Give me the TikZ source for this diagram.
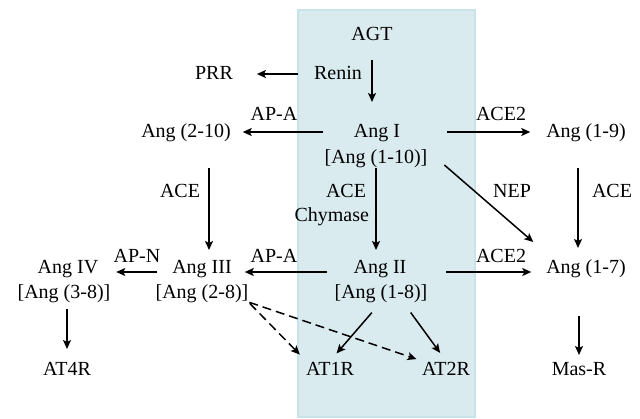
\documentclass[tikz,border=0pt]{standalone}
\usepackage{fontspec}
\setmainfont{Liberation Serif}
\usetikzlibrary{arrows.meta}

\definecolor{boxfill}{HTML}{DAEBEF}
\definecolor{boxline}{HTML}{C8E3E9}

\tikzset{
  lbl/.style={anchor=base, inner sep=0pt, outer sep=0pt, text height=14pt, text depth=4pt,
    font=\fontsize{20}{24}\selectfont},
  arr/.style={line width=1.5pt, -{Stealth[length=9pt,width=8pt,inset=2pt]}},
  darr/.style={arr, dash pattern=on 9pt off 5pt}
}

\begin{document}
\begin{tikzpicture}[x=1pt,y=-1pt]
\useasboundingbox (0,0) rectangle (640,418);

\draw[boxline, fill=boxfill, line width=2pt] (298,10) rectangle (475,417);

% top row
\node[lbl] (agt) at (372,40) {AGT};
\node[lbl] (renin) at (338,79) {Renin};
\node[lbl] (prr) at (214,79) {PRR};

\node[lbl] (angI) at (377,137) {Ang I};
\node[lbl] (angIb) at (376,163) {[Ang (1-10)]};
\node[lbl] (ang210) at (186,137) {Ang (2-10)};
\node[lbl] (ang19) at (586,137) {Ang (1-9)};
\node[lbl] (apaA) at (274,120) {AP-A};
\node[lbl] (aceA) at (501,120) {ACE2};

% enzymes in between
\node[lbl] (aceL) at (180,197) {ACE};
\node[lbl, anchor=base east] (aceC) at (366,197) {ACE};
\node[lbl, anchor=base east] (chym) at (369,221) {Chymase};
\node[lbl] (nep) at (512,197) {NEP};
\node[lbl] (aceR) at (612,197) {ACE};

% middle row
\node[lbl] (angIV) at (68,273) {Ang IV};
\node[lbl] (angIVb) at (64,298) {[Ang (3-8)]};
\node[lbl] (angIII) at (202,273) {Ang III};
\node[lbl] (angIIIb) at (202,298) {[Ang (2-8)]};
\node[lbl] (angII) at (380,273) {Ang II};
\node[lbl] (angIIb) at (381,298) {[Ang (1-8)]};
\node[lbl] (ang17) at (586,273) {Ang (1-7)};
\node[lbl] (apn) at (137,262) {AP-N};
\node[lbl] (apaB) at (274,262) {AP-A};
\node[lbl] (aceB) at (501,262) {ACE2};

% receptors
\node[lbl] (at4r) at (67,375) {AT4R};
\node[lbl] (at1r) at (330,375) {AT1R};
\node[lbl] (at2r) at (446,375) {AT2R};
\node[lbl] (masr) at (579,375) {Mas-R};

\draw[arr, shorten <=16pt, shorten >=21pt] (agt.south) -- (agt.south |- angI.north);
\draw[arr, shorten <=16pt, shorten >=24pt] (renin) -- (prr);
\draw[arr, shorten <=31pt, shorten >=12pt] (angI) -- (ang210);
\draw[arr, shorten <=47pt, shorten >=16pt] (angI) -- (ang19);

\draw[arr, shorten <=27pt, shorten >=9pt] ([xshift=7pt]angIII.north |- ang210.south) -- ([xshift=7pt]angIII.north);
\draw[arr, shorten <=1pt, shorten >=9pt] (angIb.south) -- (angIb.south |- angII.north);
\draw[arr] ([xshift=17pt,yshift=2pt]angIb.south east) -- ([xshift=-13pt,yshift=17pt]ang17.north west);
\draw[arr, shorten <=27pt, shorten >=11pt] ([xshift=-8pt]ang19.south) -- ([xshift=-8pt]ang17.north);

\draw[arr, shorten <=27pt, shorten >=13pt] ([yshift=-4pt]angII.west) -- ([yshift=-4pt]angIII.east);
\draw[arr, shorten <=15pt, shorten >=18pt] ([yshift=-4pt]angIII.west) -- ([yshift=-4pt]angIV.east);
\draw[arr, shorten <=40pt, shorten >=15pt] ([yshift=-4pt]angII.east) -- ([yshift=-4pt]ang17.west);

\draw[arr, shorten <=7pt, shorten >=12pt] (at4r.north |- angIVb.south) -- (at4r.north);
\draw[arr, shorten <=39pt, shorten >=6pt] (masr.north |- ang17.south) -- (masr.north);

\draw[arr, shorten <=14pt, shorten >=10pt] (angIIb.south) -- (at1r.north);
\draw[arr, shorten <=13pt, shorten >=10pt] ([xshift=22pt]angIIb.south) -- (at2r.north);
\draw[darr, shorten <=2pt, shorten >=9pt] (angIIIb.south east) -- (at1r.north west);
\draw[darr, shorten <=1pt, shorten >=6pt] (angIIIb.south east) -- (at2r.north west);

\end{tikzpicture}
\end{document}
